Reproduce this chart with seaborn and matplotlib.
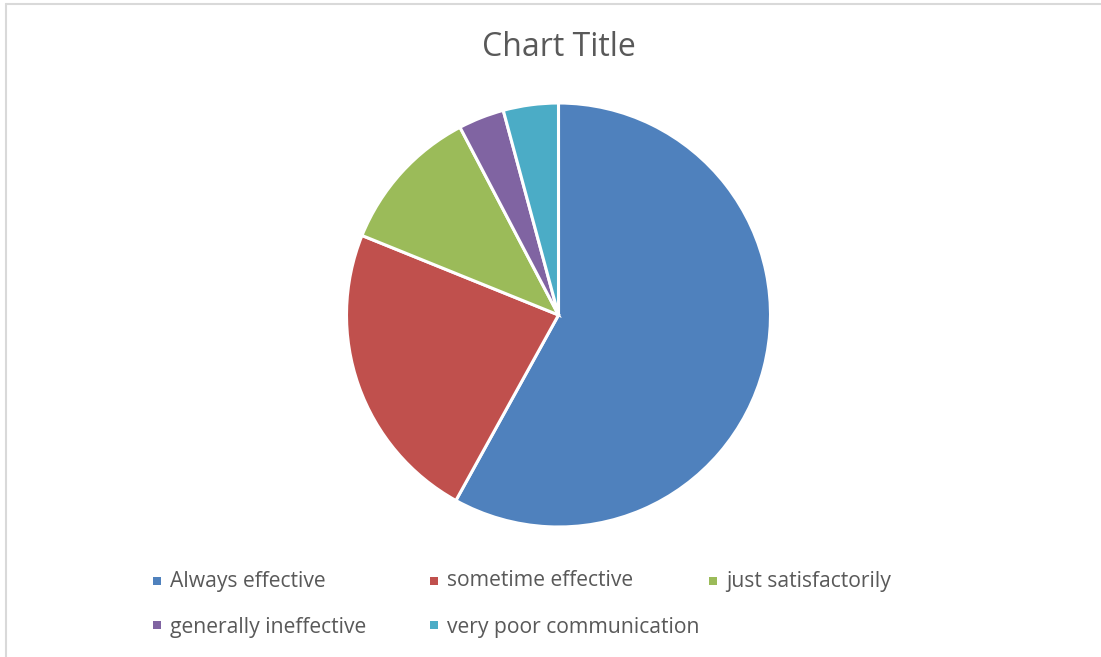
import matplotlib
matplotlib.use("Agg")
import matplotlib.pyplot as plt
import seaborn as sns
from matplotlib.patches import Rectangle
from matplotlib.lines import Line2D

# Data (share of respondents)
labels = ["Always effective", "sometime effective", "just satisfactorily",
          "generally ineffective", "very poor communication"]
counts = [83, 33, 16, 5, 6]
colors = ["#4F81BD", "#C0504D", "#9BBB59", "#8064A2", "#4BACC6"]

sns.set_theme(style="white")
plt.rcParams['font.family'] = ['Open Sans', 'DejaVu Sans']

W, H = 1101, 657
fig = plt.figure(figsize=(W / 100, H / 100), dpi=100)

# pie axes: centre (558, 315) px, radius 212 px
cx, cy, r = 558.5, 315, 212
ax = fig.add_axes([(cx - r) / W, (H - cy - r) / H, 2 * r / W, 2 * r / H])
ax.pie(counts, colors=colors, startangle=90, counterclock=False,
       wedgeprops=dict(edgecolor="white", linewidth=2.2))
ax.set_xlim(-1.0, 1.0)
ax.set_ylim(-1.0, 1.0)
ax.set_aspect("equal")
ax.axis("off")

fig.text(559 / W, 1 - 47 / H, "Chart Title", ha="center", va="center",
         fontsize=23, color="#595959")

# legend laid out like the Excel one: 3 columns, 2 rows
col_x = [157, 434, 713]
row_y = [580.5, 624.5]   # marker centres
row_base = [586.5, 632.5]  # text baselines
for i, (lab, col) in enumerate(zip(labels, colors)):
    x = col_x[i % 3]
    y = row_y[i // 3]
    fig.add_artist(Rectangle(((x - 4) / W, 1 - (y + 4) / H), 8 / W, 8 / H,
                             transform=fig.transFigure, color=col, lw=0))
    fig.text((x + 13) / W, 1 - row_base[i // 3] / H, lab, ha="left",
             va="baseline", fontsize=15.2, color="#595959")

# chart border (top and left edges are visible in the crop)
fig.add_artist(Line2D([6.5 / W, 6.5 / W], [0, 1 - 3.5 / H],
                      transform=fig.transFigure, color="#D9D9D9", lw=1.5))
fig.add_artist(Line2D([6.5 / W, 1], [1 - 3.5 / H, 1 - 3.5 / H],
                      transform=fig.transFigure, color="#D9D9D9", lw=1.5))

fig.savefig("out.png", dpi=100, facecolor="white")
